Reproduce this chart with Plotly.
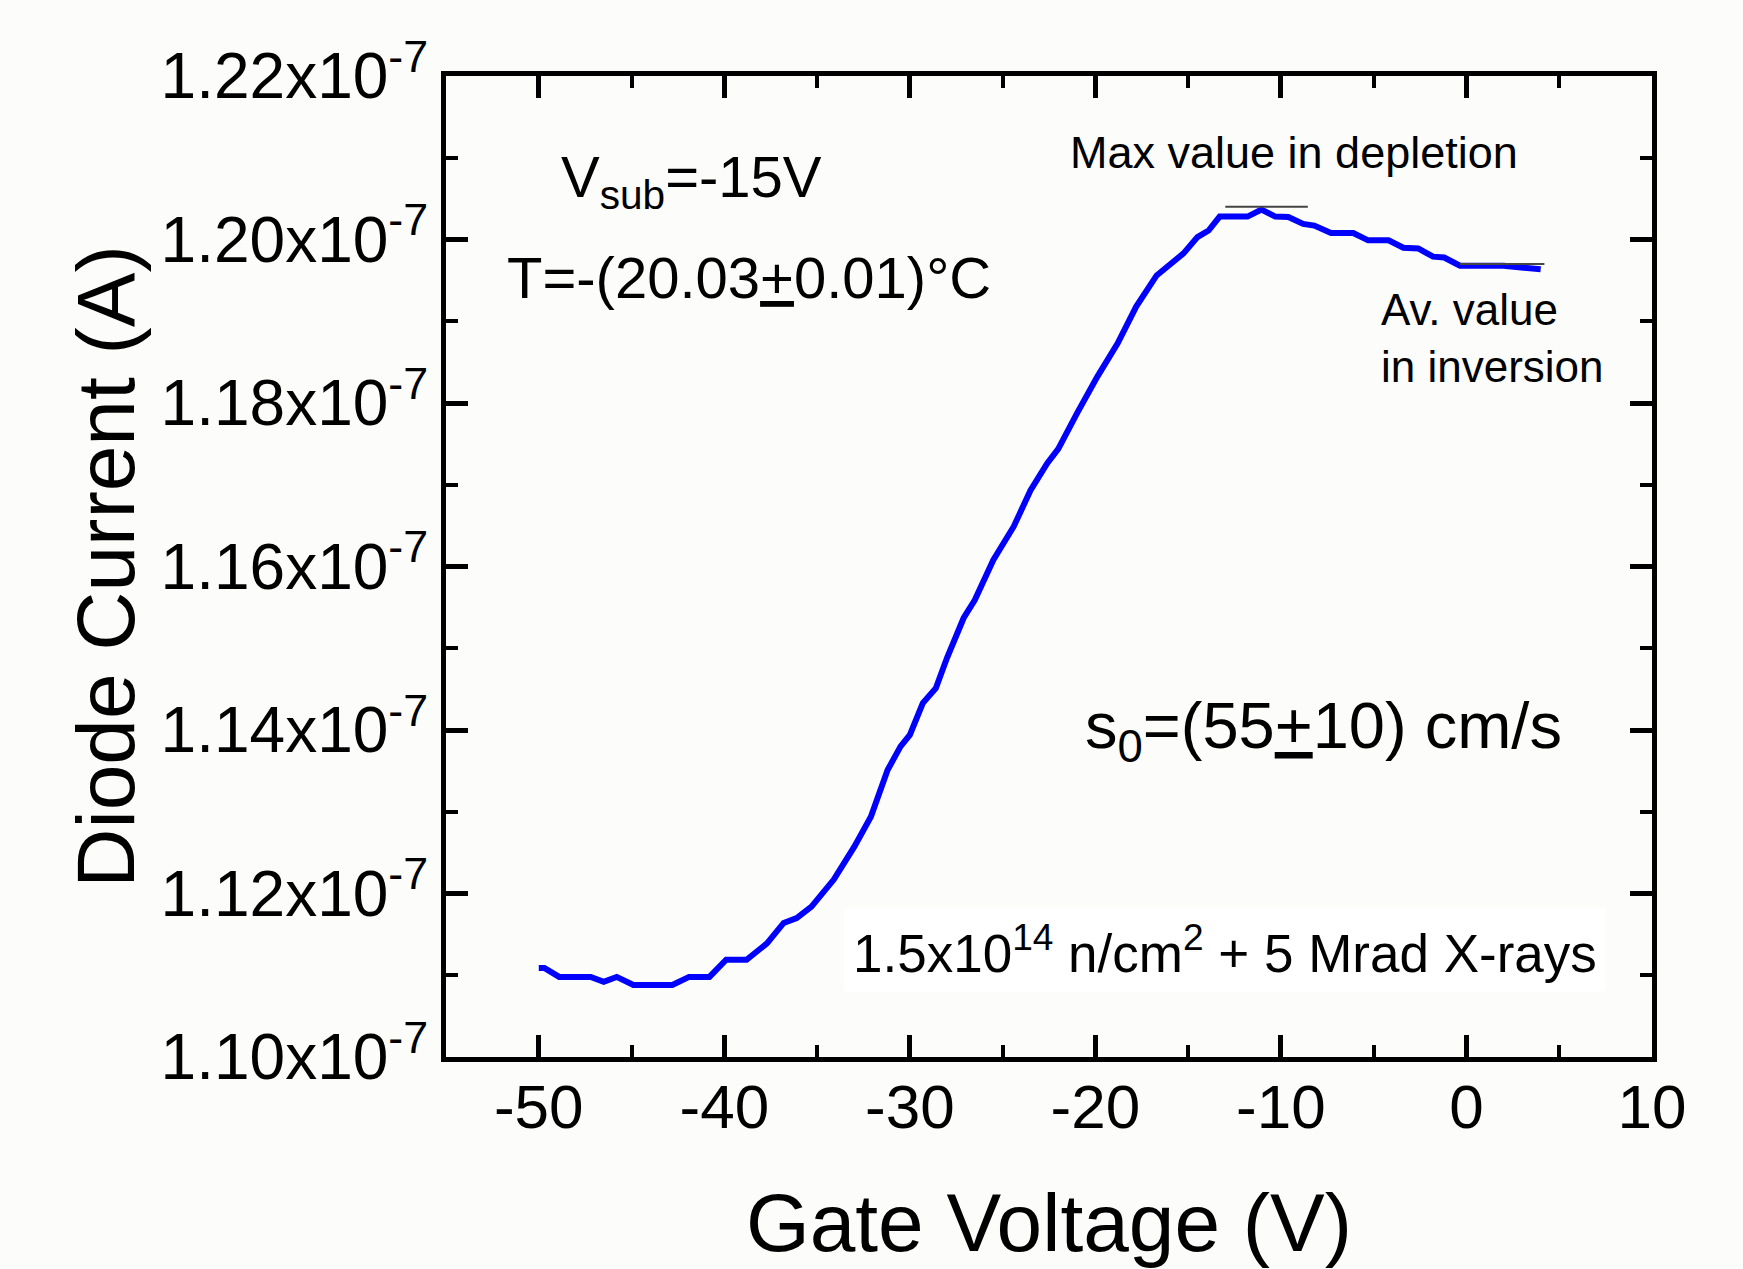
import plotly.graph_objects as go

# ---- data ----
gate_voltage = [-50.0, -49.7, -48.9, -47.2, -46.5, -45.8, -44.9, -42.8, -41.9, -40.8,
                -39.9, -38.8, -37.7, -36.8, -36.1, -35.3, -34.1, -33.0, -32.1, -31.2,
                -30.5, -30.0, -29.3, -28.6, -28.0, -27.1, -26.5, -25.5, -24.4, -23.5,
                -22.6, -22.0, -21.0, -19.9, -18.8, -17.8, -16.7, -15.8, -15.25, -14.5,
                -13.9, -13.3, -11.8, -11.05, -10.3, -9.6, -8.8, -8.2, -7.3, -6.1,
                -5.3, -4.2, -3.4, -2.6, -1.8, -1.2, -0.35, 2.0, 4.0]
diode_current = [1.1109e-7, 1.1109e-7, 1.1098e-7, 1.1098e-7, 1.1092e-7, 1.1098e-7, 1.1088e-7, 1.1088e-7, 1.1098e-7, 1.1098e-7,
                 1.1119e-7, 1.1119e-7, 1.1139e-7, 1.1164e-7, 1.1170e-7, 1.1184e-7, 1.1217e-7, 1.1257e-7, 1.1294e-7, 1.1351e-7,
                 1.1380e-7, 1.1394e-7, 1.1433e-7, 1.1451e-7, 1.1488e-7, 1.1537e-7, 1.1559e-7, 1.1608e-7, 1.1649e-7, 1.1693e-7,
                 1.1726e-7, 1.1744e-7, 1.1787e-7, 1.1832e-7, 1.1873e-7, 1.1918e-7, 1.1956e-7, 1.1973e-7, 1.1983e-7, 1.2003e-7,
                 1.2011e-7, 1.2028e-7, 1.2028e-7, 1.20365e-7, 1.2028e-7, 1.20275e-7, 1.2019e-7, 1.2017e-7, 1.2008e-7, 1.2008e-7,
                 1.1999e-7, 1.1999e-7, 1.1990e-7, 1.1989e-7, 1.1979e-7, 1.1978e-7, 1.1968e-7, 1.1968e-7, 1.19635e-7]

max_line_x = [-13.0, -8.55]
max_line_y = [1.2040e-7, 1.2040e-7]
avg_line_x = [-0.35, 4.2]
avg_line_y = [1.1970e-7, 1.1970e-7]

x_tick_vals = [-50, -40, -30, -20, -10, 0, 10]
x_tick_text = ["-50", "-40", "-30", "-20", "-10", "0", "10"]
y_tick_vals = [1.10e-7, 1.12e-7, 1.14e-7, 1.16e-7, 1.18e-7, 1.20e-7, 1.22e-7]
y_tick_text = ["1.10x10<sup>-7</sup>", "1.12x10<sup>-7</sup>", "1.14x10<sup>-7</sup>",
               "1.16x10<sup>-7</sup>", "1.18x10<sup>-7</sup>", "1.20x10<sup>-7</sup>",
               "1.22x10<sup>-7</sup>"]

FONT = "Liberation Sans, Arial, sans-serif"

fig = go.Figure()
fig.add_trace(go.Scatter(x=gate_voltage, y=diode_current, mode="lines",
                         line=dict(color="#0000ff", width=6), showlegend=False))
fig.add_trace(go.Scatter(x=max_line_x, y=max_line_y, mode="lines",
                         line=dict(color="#444444", width=2), showlegend=False))
fig.add_trace(go.Scatter(x=avg_line_x, y=avg_line_y, mode="lines",
                         line=dict(color="#444444", width=2), showlegend=False))

axis_common = dict(showline=True, linecolor="black", linewidth=5, mirror="ticks",
                   ticks="inside", ticklen=22, tickwidth=5, tickcolor="black",
                   showgrid=False, zeroline=False)

fig.update_xaxes(range=[-55, 10], tickmode="array", tickvals=x_tick_vals, ticktext=x_tick_text,
                 tickfont=dict(family=FONT, size=62, color="black"),
                 ticklabelstandoff=-8,
                 minor=dict(ticks="inside", ticklen=12, tickwidth=4, tickcolor="black",
                            tickmode="linear", tick0=-55, dtick=5),
                 title=dict(text="Gate Voltage (V)", font=dict(family=FONT, size=82, color="black"),
                            standoff=55),
                 **axis_common)
fig.update_yaxes(range=[1.10e-7, 1.22e-7], tickmode="array", tickvals=y_tick_vals, ticktext=y_tick_text,
                 tickfont=dict(family=FONT, size=64, color="black"),
                 minor=dict(ticks="inside", ticklen=12, tickwidth=4, tickcolor="black",
                            tickmode="linear", tick0=1.10e-7, dtick=0.01e-7),
                 title=dict(text="Diode Current (A)", font=dict(family=FONT, size=82, color="black"),
                            standoff=0),
                 **axis_common)

def ann(text, x, y, size, xanchor="left", yanchor="middle", align="left", bg=None):
    d = dict(text=text, x=x, y=y, xref="x", yref="y", showarrow=False,
             xanchor=xanchor, yanchor=yanchor, align=align,
             font=dict(family=FONT, size=size, color="black"))
    if bg:
        d["bgcolor"] = bg
        d["borderpad"] = 8
    fig.add_annotation(**d)

ann("V<sub>sub</sub>=-15V", -48.9, 1.2072e-7, 58)
ann("T=-(20.03<u>+</u>0.01)°C", -51.8, 1.1953e-7, 58)
ann("Max value in depletion", -21.45, 1.2107e-7, 45)
ann("Av. value<br>in inversion", -4.7, 1.1879e-7, 44)
ann("s<sub>0</sub>=(55<u>+</u>10) cm/s", -20.65, 1.1400e-7, 65)
ann("1.5x10<sup>14</sup> n/cm<sup>2</sup> + 5 Mrad X-rays", -33.55, 1.1131e-7, 53, bg="#ffffff")

fig.update_layout(width=1743, height=1269,
                  margin=dict(l=446, r=91, t=76, b=212, autoexpand=False),
                  paper_bgcolor="#fcfcfa", plot_bgcolor="#fcfcfa",
                  font=dict(family=FONT, color="black"))

fig.write_html("out.html")
